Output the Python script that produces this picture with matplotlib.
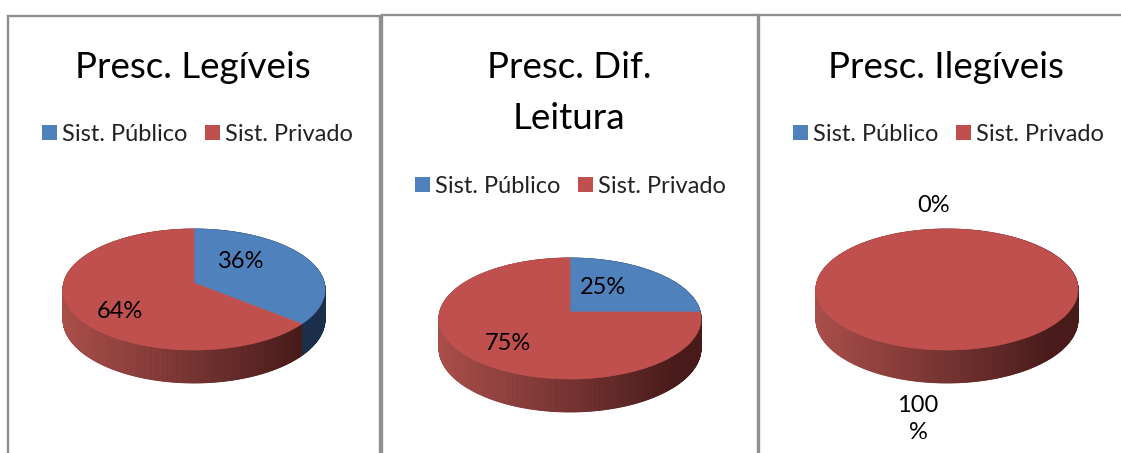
import numpy as np
import matplotlib
matplotlib.use('Agg')
import matplotlib.pyplot as plt
from matplotlib.patches import Polygon, Rectangle

# ---- data ----
titles = ["Presc. Legíveis", "Presc. Dif.\nLeitura", "Presc. Ilegíveis"]
categories = ["Sist. Público", "Sist. Privado"]
publico = [36, 25, 0]
privado = [64, 75, 100]
value_labels = [["36%", "64%"], ["25%", "75%"], ["0%", "100\n%"]]

# ---- style ----
TOP_COLORS = ["#4F81BD", "#C0504D"]
SIDE_LIGHT = [np.array([40, 68, 104]) / 255, np.array([170, 78, 74]) / 255]
SIDE_DARK = [np.array([27, 47, 74]) / 255, np.array([72, 27, 26]) / 255]
FONT = "Lato"

W, H = 1121, 453
fig = plt.figure(figsize=(W / 100, H / 100), dpi=100)
ax = fig.add_axes([0, 0, 1, 1])
ax.set_xlim(0, W)
ax.set_ylim(H, 0)
ax.axis('off')

# panel frames
frames = [(8, 16, 380), (382, 15, 758), (759, 15, 1135)]
for x0, y0, x1 in frames:
    ax.plot([x0, x0, x1, x1], [H + 5, y0, y0, H + 5], color="#8f8f8f", lw=1.7,
            solid_joinstyle='miter', zorder=1)

# pie geometry (pixel units)
A, B, K, THICK = 130.3, 59.8, 0.107, 29.5


def proj(cx, cy, t, z=0.0):
    u = np.cos(t)
    v = np.sin(t)
    s = 1.0 / (1.0 + K * v)
    return cx + A * u * s, cy - B * v * s + z * s


def draw_pie(cx, cy, values):
    total = float(sum(values))
    start = np.pi / 2
    wedges = []
    for i, val in enumerate(values):
        sweep = 2 * np.pi * val / total
        if val > 0:
            wedges.append((i, start, start - sweep))
        start -= sweep
    # side quads, back to front
    quads = []
    for i, t0, t1 in wedges:
        n = max(int(abs(t1 - t0) / (2 * np.pi) * 720), 2)
        ts = np.linspace(t0, t1, n + 1)
        for a, b in zip(ts[:-1], ts[1:]):
            xa, ya = proj(cx, cy, a)
            xb, yb = proj(cx, cy, b)
            xa2, ya2 = proj(cx, cy, a, THICK)
            xb2, yb2 = proj(cx, cy, b, THICK)
            vm = np.sin((a + b) / 2)
            f = np.clip(((xa + xb) / 2 - (cx - A)) / (2 * A * 0.9), 0, 1)
            col = SIDE_LIGHT[i] * (1 - f) + SIDE_DARK[i] * f
            quads.append((vm, [(xa, ya), (xb, yb), (xb2, yb2), (xa2, ya2)], col))
    quads.sort(key=lambda q: -q[0])
    for vm, pts, col in quads:
        ax.add_patch(Polygon(pts, closed=True, facecolor=col, edgecolor=col,
                             lw=0.6, zorder=2))
    # top faces
    for i, t0, t1 in wedges:
        n = max(int(abs(t1 - t0) / (2 * np.pi) * 720), 2)
        ts = np.linspace(t0, t1, n + 1)
        xs, ys = proj(cx, cy, ts)
        if abs(t1 - t0) < 2 * np.pi - 1e-9:
            pts = [(cx, cy)] + list(zip(xs, ys))
        else:
            pts = list(zip(xs, ys))
        ax.add_patch(Polygon(pts, closed=True, facecolor=TOP_COLORS[i],
                             edgecolor=TOP_COLORS[i], lw=0.5, zorder=3))


centers = [(194, 283), (570, 312), (947, 283)]
for k in range(3):
    draw_pie(*centers[k], [publico[k], privado[k]])

# titles
title_x = [193, 569, 946]
for k, t in enumerate(titles):
    for j, line in enumerate(t.split("\n")):
        ax.text(title_x[k], 78 + 51 * j, line, ha='center', va='baseline',
                fontsize=26.5, family=FONT, color='black', zorder=5)

# legends
legend_pos = [(42, 141), (415, 193), (793, 141)]
for k, (lx, ly) in enumerate(legend_pos):
    x = lx
    for i, cat in enumerate(categories):
        ax.add_patch(Rectangle((x, ly - 16), 15, 15, facecolor=TOP_COLORS[i],
                               edgecolor='none', zorder=5))
        ax.text(x + 20, ly, cat, ha='left', va='baseline', fontsize=17,
                family=FONT, color='#222222', zorder=5)
        x += 163

# value labels
label_pos = [[(241, 262), (120, 311)], [(603, 288), (508, 343)],
             [(934, 205), (918, 419)]]
for k in range(3):
    for i in range(2):
        ax.text(*label_pos[k][i], value_labels[k][i], ha='center', va='center',
                fontsize=17, family=FONT, color='black', linespacing=1.4,
                zorder=6)

fig.savefig("out.png", dpi=100)
